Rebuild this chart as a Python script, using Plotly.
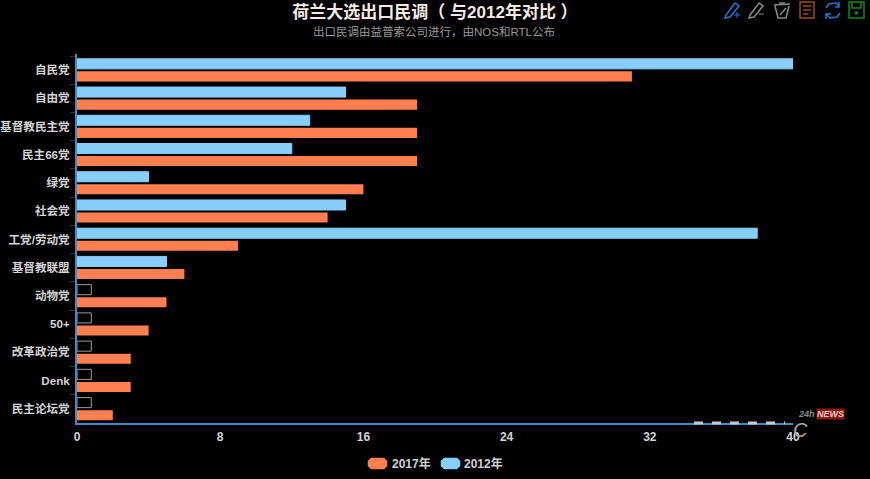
import plotly.graph_objects as go

categories = ["自民党", "自由党", "基督教民主党", "民主66党", "绿党", "社会党", "工党/劳动党",
              "基督教联盟", "动物党", "50+", "改革政治党", "Denk", "民主论坛党"]
values_2017 = [31, 19, 19, 19, 16, 14, 9, 6, 5, 4, 3, 3, 2]
values_2012 = [40, 15, 13, 12, 4, 15, 38, 5, 0.8, 0.8, 0.8, 0.8, 0.8]
x_ticks = [0, 8, 16, 24, 32, 40]

W, H = 870, 479
L, R, T, B = 77, 793, 56, 423
FONT = "Liberation Sans, Noto Sans CJK SC, sans-serif"
BLUE = "#87cefa"
ORANGE = "#ff7f50"
AXIS = "#3d8cc4"


def px(x):
    return (x - L) / (R - L)


def py(y):
    return (B - y) / (B - T)


def path(points, closed=False):
    s = "M" + " L".join(f"{px(a):.5f},{py(b):.5f}" for a, b in points)
    return s + (" Z" if closed else "")


def outline(points, colour, closed=False, width=1.5, fill=None):
    d = dict(type="path", xref="paper", yref="paper", path=path(points, closed),
             line=dict(color=colour, width=width))
    if fill:
        d["fillcolor"] = fill
    return d


def swatch(x0, x1, y0, y1, colour):
    r = 3
    pts = [(x0 + r, y0), (x1 - r, y0), (x1, y0 + r), (x1, y1 - r), (x1 - r, y1), (x0 + r, y1), (x0, y1 - r), (x0, y0 + r)]
    return outline(pts, colour, True, 0.5, colour)


def label(text, x, y, size, colour, **kw):
    return dict(text=text, x=px(x), y=py(y), xref="paper", yref="paper", showarrow=False,
                xanchor=kw.pop("xanchor", "center"), yanchor="middle",
                font=dict(family=FONT, size=size, color=colour), **kw)


bar_fill_2012 = [BLUE if v >= 1 else "rgba(0,0,0,0)" for v in values_2012]
bar_line_2012 = [BLUE if v >= 1 else "#9a9a9a" for v in values_2012]

fig = go.Figure()
fig.add_bar(name="2012年", y=categories, x=values_2012, orientation="h",
            marker=dict(color=bar_fill_2012, line=dict(color=bar_line_2012, width=1)))
fig.add_bar(name="2017年", y=categories, x=values_2017, orientation="h",
            marker=dict(color=ORANGE, line=dict(color=ORANGE, width=0)))

tb = "#1e78d6"
shapes = [
    outline([(726, 15), (735, 3), (739, 6), (730, 17), (725, 18)], tb, True),
    outline([(737, 12), (737, 18)], tb, width=1),
    outline([(734, 15), (740, 15)], tb, width=1),
    outline([(750, 15), (759, 3), (763, 6), (754, 17), (749, 18)], "#8a8a8a", True),
    outline([(759, 14), (764, 14)], "#8a8a8a", width=1),
    outline([(774, 5), (790, 4)], "#8a8a8a"),
    outline([(779, 3), (785, 3)], "#8a8a8a"),
    outline([(775, 6), (778, 18), (786, 18), (789, 6)], "#8a8a8a"),
    outline([(780, 15), (786, 8)], "#8a8a8a"),
    outline([(800, 2), (814, 2), (814, 18), (800, 18)], "#a0481c", True),
    outline([(803, 6), (811, 6)], "#a0481c"),
    outline([(803, 10), (811, 10)], "#a0481c"),
    outline([(803, 14), (808, 14)], "#a0481c"),
    outline([(826, 8), (829, 4), (836, 3), (839, 6)], tb),
    outline([(839, 2), (839, 7), (835, 7)], tb),
    outline([(840, 13), (837, 17), (830, 18), (826, 14)], tb),
    outline([(826, 19), (826, 14), (831, 14)], tb),
    outline([(849, 2), (864, 2), (864, 18), (849, 18)], "#0f8a1e", True),
    outline([(852, 2), (852, 8), (861, 8), (861, 2)], "#0f8a1e"),
    outline([(855, 13), (858, 13)], "#0f8a1e", width=3),
    outline([(76, 54), (76, 57)], AXIS, width=2),
    dict(type="line", xref="paper", yref="paper", x0=px(694), x1=px(785), y0=py(423), y1=py(423),
         line=dict(color="#c8c8c8", width=3, dash="dash")),
    swatch(368, 387, 458, 469, ORANGE),
    swatch(441, 460, 458, 469, BLUE),
]

annotations = [
    label("<i><b>24h</b></i>", 806, 414, 9, "#8a8a8a"),
    label("<b><i>NEWS</i></b>", 830.5, 414, 9, "#e8c8c8", bgcolor="#8c1c16", borderpad=0),
    label("<i>C</i>", 800, 430, 20, "#a8a8a8"),
    label("出口民调由益普索公司进行，由NOS和RTL公布", 434, 32, 11.5, "#9a9a9a"),
    label("<b>2017年</b>", 390, 463, 12, "#d0d0d0", xanchor="left"),
    label("<b>2012年</b>", 462, 463, 12, "#d0d0d0", xanchor="left"),
]

fig.update_layout(
    width=W, height=H, autosize=False,
    paper_bgcolor="#000", plot_bgcolor="#000",
    margin=dict(l=L, r=W - R, t=T, b=H - B),
    font=dict(family=FONT, color="#dcdcdc", size=12),
    title=dict(text="<b>荷兰大选出口民调（ 与2012年对比 ）</b>", x=435 / W, xanchor="center",
               y=1 - 12 / H, yanchor="middle", font=dict(family=FONT, size=17, color="#f6e9e4")),
    barmode="group", bargap=0.11, bargroupgap=0.2,
    showlegend=False,
    xaxis=dict(automargin=False, range=[0, 40], tickvals=x_ticks, showgrid=False, zeroline=False, showline=True,
               linecolor=AXIS, linewidth=2, ticks="", ticklabelstandoff=2,
               tickfont=dict(family=FONT, size=12, color="#d4d4d4", weight="bold")),
    yaxis=dict(automargin=False, autorange="reversed", type="category", tickson="boundaries", ticks="outside", ticklen=5,
               tickcolor="#333", showgrid=False, zeroline=False, showline=True, linecolor=AXIS, linewidth=2,
               ticklabelstandoff=3, tickfont=dict(family=FONT, size=11.6, color="#d4d4d4", weight="bold")),
    shapes=shapes, annotations=annotations,
)
fig.write_html("out.html", config={"displayModeBar": False},
               post_script="document.body.style.margin='0';document.body.style.background='#000';")
